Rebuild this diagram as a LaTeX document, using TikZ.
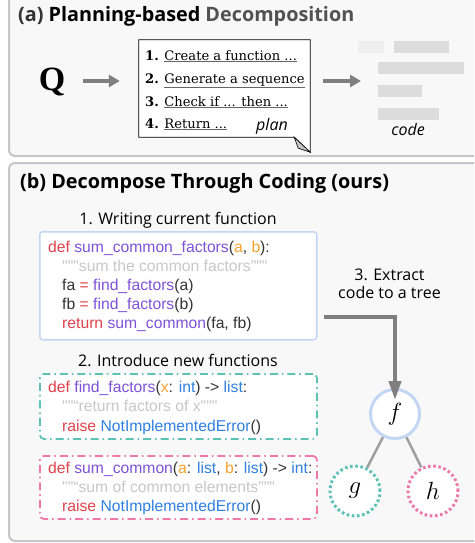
\documentclass[tikz,border=0pt]{standalone}
\usepackage{fontspec}
\setmainfont{Open Sans}
\newfontfamily\codefont{Liberation Sans}
\newfontfamily\planfont{DejaVu Serif}
\newfontfamily\qfont{Liberation Serif}
\usetikzlibrary{arrows.meta}
\definecolor{panelfill}{HTML}{F8F8F8}
\definecolor{panelline}{HTML}{C5C5CB}
\definecolor{agray}{HTML}{7F7F7F}
\definecolor{bline}{HTML}{C3D7F5}
\definecolor{tealc}{HTML}{5DC2B6}
\definecolor{pinkc}{HTML}{EE79A6}
\definecolor{ckw}{HTML}{E0424B}
\definecolor{cfn}{HTML}{7F52D9}
\definecolor{cpar}{HTML}{F5A22D}
\definecolor{ctyp}{HTML}{2F80E0}
\definecolor{cdoc}{HTML}{C8C8C8}
\definecolor{ctxt}{HTML}{333333}
\definecolor{ulgray}{HTML}{666666}
\definecolor{bar1}{HTML}{EFEFEF}
\definecolor{bar2}{HTML}{DCDCDC}
\newcommand\K[1]{\textcolor{ckw}{#1}}
\newcommand\F[1]{\textcolor{cfn}{#1}}
\newcommand\Pa[1]{\textcolor{cpar}{#1}}
\newcommand\T[1]{\textcolor{ctyp}{#1}}
\newcommand\D[1]{\textcolor{cdoc}{#1}}
\newcommand\gul[1]{\textcolor{ulgray}{\underline{\textcolor{black}{#1}}}}
\begin{document}
\begin{tikzpicture}[x=1pt,y=-1pt,
  panel/.style={draw=panelline,fill=panelfill,line width=2pt,rounded corners=6pt},
  title/.style={anchor=base west,font=\fontsize{19.8}{23}\selectfont\bfseries,inner sep=0pt},
  steplbl/.style={anchor=base,font=\fontsize{16}{19}\selectfont,text=black,inner sep=0pt},
  codeln/.style={anchor=base west,font=\codefont\fontsize{15.7}{19}\selectfont,text=ctxt,inner sep=0pt},
  planln/.style={anchor=base west,font=\planfont\fontsize{13.1}{16}\selectfont,text=black,inner sep=0pt},
  arr/.style={draw=agray,line width=3.5pt,-{Triangle[length=11pt,width=12pt]}},
  arrb/.style={draw=agray,line width=4pt,-{Triangle[length=19pt,width=12pt]}},
  codebox/.style={draw=bline,fill=white,line width=1.5pt,rounded corners=3pt,inner sep=0pt},
  ddbox/.style={fill=white,line width=1.8pt,rounded corners=4pt,inner sep=0pt,
     dash pattern=on 8pt off 4pt on 1.5pt off 4pt},
  tnode/.style={circle,fill=white,minimum size=50pt,inner sep=0pt,font=\fontsize{27}{30}\selectfont},
  edge/.style={draw=gray!75,line width=2.5pt}
]
\useasboundingbox (0,0) rectangle (474,543);
\clip (0,0) rectangle (474,543);
% panels
\draw[panel] (9,-10) rectangle (495,156);
\draw[panel] (9,163) rectangle (495,541);

% ---- panel (a)
\node[title] (ta) at (18,22) {\textcolor{ctxt}{(a)} \textcolor{black}{Planning-based} \textcolor{ctxt!85!white}{Decomposition}};
\node[font=\qfont\bfseries\fontsize{34}{36}\selectfont,inner sep=0pt] (Q) at (52,82) {Q};
\node[minimum width=171pt,minimum height=97pt,inner sep=0pt] (plan) at (224.5,88.5) {};
\draw[fill=white,line width=0.8pt] (plan.north west) -- (plan.north east) -- ([yshift=-15pt]plan.south east)
  -- ([xshift=-16pt]plan.south east) -- (plan.south west) -- cycle;
\draw[fill=gray!45,line width=0.6pt] ([xshift=-16pt]plan.south east) -- ([xshift=-12pt,yshift=-11pt]plan.south east)
  -- ([yshift=-15pt]plan.south east) -- cycle;
\node[planln] (p1) at (145,60) {\textbf{1.} \gul{Create a function ...}};
\node[planln] (p2) at (145,83) {\textbf{2.} \gul{Generate a sequence}};
\node[planln] (p3) at (145,106) {\textbf{3.} \gul{Check if ... then ...}};
\node[planln] (p4) at (145,128) {\textbf{4.} \gul{Return ...}};
\node[anchor=base,inner sep=0pt,font=\fontsize{16}{18}\selectfont\itshape] (plbl) at (272,130) {plan};
% code icon
\node[minimum width=106pt,minimum height=79pt,inner sep=0pt] (code) at (411,80.5) {};
\fill[bar1] (358,41) rectangle (384,53);
\fill[bar2] (394,41) rectangle (449,53);
\fill[bar2] (378,62) rectangle (464,74);
\fill[bar2] (378,85) rectangle (422,97);
\fill[bar2] (378,108) rectangle (439,120);
\node[anchor=base,inner sep=0pt,font=\fontsize{16}{18}\selectfont\itshape] (clbl) at (408,135) {code};
\draw[arr] ([xshift=18pt]Q.east |- 0,81) -- ([xshift=-19pt]plan.west |- 0,81);
\draw[arr] ([xshift=13pt]plan.east |- 0,81) -- (361,81);

% ---- panel (b)
\node[title] (tb) at (20,188) {(b) Decompose Through Coding (ours)};
\node[steplbl] (s1) at (178,224) {1. Writing current function};
\node[codebox,minimum width=277pt,minimum height=108pt,anchor=north west] (cb1) at (39,231) {};
\node[codeln] (l11) at (48,252) {\K{def} \F{sum\_common\_factors}(\Pa{a}, \Pa{b}):};
\node[codeln] (l12) at (62,271) {\D{"""sum the common factors"""}};
\node[codeln] (l13) at (62,290) {fa \K{=} \F{find\_factors}(a)};
\node[codeln] (l14) at (62,309) {fb \K{=} \F{find\_factors}(b)};
\node[codeln] (l15) at (62,328) {\K{return} \F{sum\_common}(fa, fb)};

\node[steplbl] (s3a) at (389.5,280) {3. Extract};
\node[steplbl] (s3b) at (389.5,298) {code to a tree};

\node[steplbl] (s2) at (178,366) {2. Introduce new functions};
\node[ddbox,draw=tealc,minimum width=277pt,minimum height=65pt,anchor=north west] (cb2) at (39,373) {};
\node[codeln] (l21) at (48,392) {\K{def} \F{find\_factors}(\Pa{x}: \T{int}) -> \T{list}:};
\node[codeln] (l22) at (62,411) {\D{""“return factors of x"""}};
\node[codeln] (l23) at (62,431) {\K{raise} \T{NotImplementedError}()};
\node[ddbox,draw=pinkc,minimum width=277pt,minimum height=63pt,anchor=north west] (cb3) at (39,455) {};
\node[codeln] (l31) at (48,473) {\K{def} \F{sum\_common}(\Pa{a}: \T{list}, \Pa{b}: \T{list}) -> \T{int}:};
\node[codeln] (l32) at (62,492) {\D{""“sum of common elements"""}};
\node[codeln] (l33) at (62,511) {\K{raise} \T{NotImplementedError}()};

% tree
\node[tnode,draw=bline,line width=3pt,minimum size=49pt] (f) at (395,414) {$f$};
\node[tnode,draw=tealc,line width=3pt,dash pattern=on 2.6pt off 2.6pt] (g) at (355,491) {$g$};
\node[tnode,draw=pinkc,line width=3pt,dash pattern=on 2.6pt off 2.6pt] (h) at (433,491) {$h$};
\draw[edge] (f) -- (g);
\draw[edge] (f) -- (h);
\coordinate (a3s) at (324,317);
\draw[arrb] (a3s) -| ([yshift=-12pt]f.north);
\end{tikzpicture}
\end{document}
